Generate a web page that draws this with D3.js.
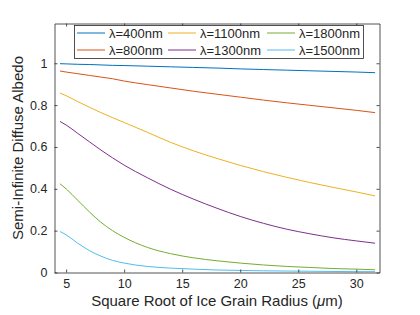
<!DOCTYPE html>
<html lang="en">
<head>
    <meta charset="UTF-8">
    <title>Semi-Infinite Diffuse Albedo</title>
    <script src="https://d3js.org/d3.v7.min.js"></script>
    <style>
        body { margin: 0; background: #fff; }
        text { font-family: "Liberation Sans", Arial, sans-serif; fill: #262626; }
    </style>
</head>
<body>
    <script>
        // square root of grain radius (x values shared by every curve)
        var xs = [4.47, 5, 6, 7, 8, 9, 10, 12, 14, 16, 18, 20, 22, 24, 26, 28, 30, 31.62];

        var names = ["\u03bb=400nm", "\u03bb=800nm", "\u03bb=1100nm", "\u03bb=1300nm", "\u03bb=1800nm", "\u03bb=1500nm"];
        var colors = ["#0072BD", "#D95319", "#EDB120", "#7E2F8E", "#77AC30", "#4DBEEE"];

        var a400  = [0.998, 0.997, 0.995, 0.994, 0.992, 0.990, 0.989, 0.986, 0.983, 0.980, 0.977, 0.973, 0.970, 0.967, 0.964, 0.961, 0.958, 0.955];
        var a800  = [0.963, 0.958, 0.950, 0.942, 0.934, 0.926, 0.915, 0.898, 0.882, 0.866, 0.852, 0.838, 0.824, 0.811, 0.799, 0.787, 0.775, 0.764];
        var a1100 = [0.858, 0.845, 0.817, 0.790, 0.764, 0.740, 0.717, 0.670, 0.622, 0.581, 0.545, 0.512, 0.482, 0.455, 0.430, 0.407, 0.385, 0.366];
        var a1300 = [0.722, 0.705, 0.665, 0.625, 0.585, 0.548, 0.513, 0.453, 0.398, 0.350, 0.307, 0.268, 0.235, 0.207, 0.185, 0.166, 0.151, 0.140];
        var a1800 = [0.424, 0.400, 0.345, 0.290, 0.240, 0.200, 0.168, 0.120, 0.090, 0.070, 0.056, 0.045, 0.036, 0.029, 0.024, 0.019, 0.016, 0.013];
        var a1500 = [0.196, 0.180, 0.140, 0.105, 0.078, 0.058, 0.045, 0.029, 0.021, 0.016, 0.012, 0.010, 0.008, 0.007, 0.006, 0.005, 0.004, 0.004];

        var series = [a400, a800, a1100, a1300, a1800, a1500];

        var xTicks = [5, 10, 15, 20, 25, 30];
        var yTicks = [0, 0.2, 0.4, 0.6, 0.8, 1];

        var w = 420, h = 315;
        var mLeft = 54.5, mRight = 379.5, mTop = 23.5, mBottom = 272.5;

        var svg = d3.select("body").append("svg")
            .attr("width", w)
            .attr("height", h);

        var x = d3.scaleLinear().domain([4, 32]).range([mLeft, mRight]);
        var y = d3.scaleLinear().domain([0, 1.19]).range([mBottom, mTop]);

        // curves
        var line = d3.line()
            .x(function(d) { return x(d[0]); })
            .y(function(d) { return y(d[1]); })
            .curve(d3.curveMonotoneX);

        series.forEach(function(s, i) {
            svg.append("path")
                .datum(xs.map(function(v, j) { return [v, s[j]]; }))
                .attr("d", line)
                .attr("fill", "none")
                .attr("stroke", colors[i])
                .attr("stroke-width", 1);
        });

        // axes (ticks inward, mirrored on top/right)
        var axisColor = "#262626";
        var gb = svg.append("g").attr("transform", "translate(0," + mBottom + ")")
            .call(d3.axisBottom(x).tickValues(xTicks).tickSizeInner(-3).tickSizeOuter(0).tickPadding(7));
        var gt = svg.append("g").attr("transform", "translate(0," + mTop + ")")
            .call(d3.axisTop(x).tickValues(xTicks).tickSizeInner(-3).tickSizeOuter(0).tickFormat(""));
        var gl = svg.append("g").attr("transform", "translate(" + mLeft + ",0)")
            .call(d3.axisLeft(y).tickValues(yTicks).tickSizeInner(-3).tickSizeOuter(0).tickPadding(7)
                .tickFormat(function(d) { return d3.format("")(d); }));
        var gr = svg.append("g").attr("transform", "translate(" + mRight + ",0)")
            .call(d3.axisRight(y).tickValues(yTicks).tickSizeInner(-3).tickSizeOuter(0).tickFormat(""));

        [gb, gt, gl, gr].forEach(function(g) {
            g.select(".domain").attr("stroke", axisColor).attr("stroke-width", 0.8);
            g.selectAll(".tick line").attr("stroke", axisColor).attr("stroke-width", 0.8);
            g.selectAll(".tick text").attr("font-size", 12.5).attr("font-family", "Liberation Sans, Arial, sans-serif").attr("fill", axisColor);
        });

        // axis labels
        var xl = svg.append("text")
            .attr("x", (mLeft + mRight) / 2)
            .attr("y", 306)
            .attr("text-anchor", "middle")
            .attr("font-size", 15);
        xl.append("tspan").text("Square Root of Ice Grain Radius (");
        xl.append("tspan").attr("font-style", "italic").text("\u03bc");
        xl.append("tspan").text("m)");

        svg.append("text")
            .attr("transform", "translate(23," + (mTop + mBottom) / 2 + ") rotate(-90)")
            .attr("text-anchor", "middle")
            .attr("font-size", 15)
            .text("Semi-Infinite Diffuse Albedo");

        // legend, filled column by column
        var lg = svg.append("g");
        lg.append("rect")
            .attr("x", 74.5).attr("y", 25.5)
            .attr("width", 289).attr("height", 33)
            .attr("fill", "#fff")
            .attr("stroke", axisColor)
            .attr("stroke-width", 0.8);

        var colX = [77, 168, 267];
        var rowY = [33, 50];
        names.forEach(function(n, i) {
            var cx = colX[Math.floor(i / 2)], cy = rowY[i % 2];
            lg.append("line")
                .attr("x1", cx).attr("x2", cx + 28)
                .attr("y1", cy).attr("y2", cy)
                .attr("stroke", colors[i])
                .attr("stroke-width", 1);
            lg.append("text")
                .attr("x", cx + 32)
                .attr("y", cy + 4.5)
                .attr("font-size", 13)
                .text(n);
        });
    </script>
</body>
</html>
